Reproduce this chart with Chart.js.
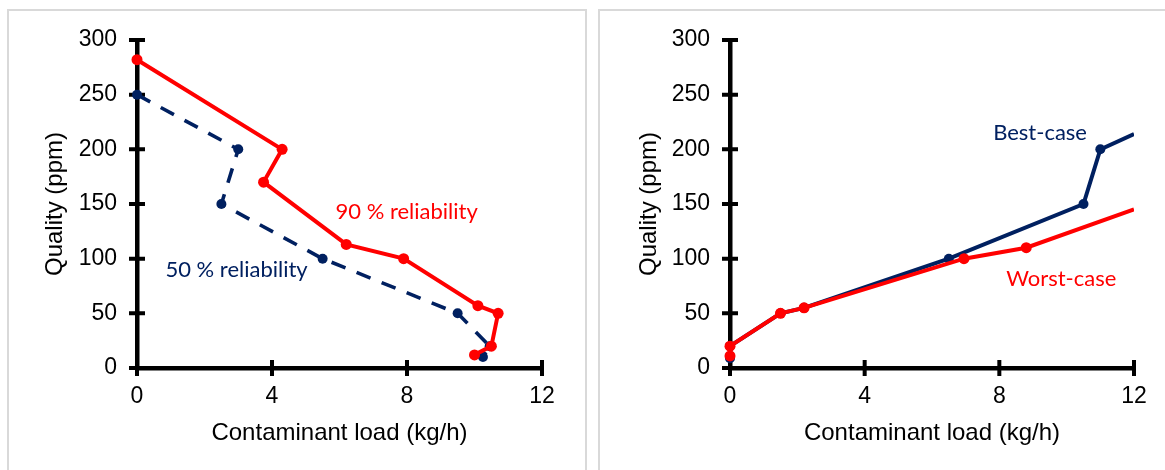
<!DOCTYPE html>
<html><head><meta charset="utf-8">
<script src="https://cdn.jsdelivr.net/npm/chart.js@4.4.1/dist/chart.umd.min.js"></script>
<style>
html,body{margin:0;padding:0;background:#fff;width:1165px;height:470px;overflow:hidden;position:relative}
.panel{position:absolute;border:2px solid #d9d9d9;box-sizing:border-box}
#p1{left:7px;top:9px;width:580px;height:480px}
#p2{left:598px;top:9px;width:600px;height:480px}
canvas{position:absolute;top:0}
#c1{left:0}
#c2{left:590px}
</style></head><body>
<div class="panel" id="p1"></div><div class="panel" id="p2"></div>
<canvas id="c1" width="590" height="470"></canvas>
<canvas id="c2" width="575" height="470"></canvas>
<script>
// ---- data ----
const loadTicks = [0, 4, 8, 12];
const qualityTicks = [0, 50, 100, 150, 200, 250, 300];

const rel50Load    = [0, 3.0, 2.5, 5.5, 9.5, 10.45, 10.25];
const rel50Quality = [250, 200, 150, 100, 50, 20, 10];
const rel90Load    = [0, 4.3, 3.75, 6.2, 7.9, 10.1, 10.7, 10.5, 10.0];
const rel90Quality = [282, 200, 170, 113, 100, 57, 50, 20, 12];

const bestLoad     = [0, 0, 1.5, 2.2, 6.5, 10.5, 11.0, 12];
const bestQuality  = [9, 20, 50, 55, 100, 150, 200, 214];
const worstLoad    = [0, 0, 1.5, 2.2, 6.95, 8.8, 12];
const worstQuality = [11, 20, 50, 55, 100, 110, 145];

const RED = '#ff0000', NAVY = '#002060';
const pts = (xs, ys) => xs.map((x, i) => ({x, y: ys[i]}));

const crossTicks = {
  id: 'crossTicks',
  beforeDatasetsDraw(chart) {
    const {ctx, chartArea: a, scales: {x, y}} = chart;
    ctx.save();
    ctx.strokeStyle = '#000';
    ctx.lineWidth = 4;
    ctx.beginPath();
    y.ticks.forEach(t => { const p = y.getPixelForValue(t.value); ctx.moveTo(a.left - 8, p); ctx.lineTo(a.left + 8, p); });
    x.ticks.forEach(t => { const p = x.getPixelForValue(t.value); ctx.moveTo(p, a.bottom - 8); ctx.lineTo(p, a.bottom + 8); });
    ctx.stroke();
    ctx.restore();
  }
};
const notes = {
  id: 'notes',
  afterDatasetsDraw(chart, args, opts) {
    const {ctx, scales: {x, y}} = chart;
    ctx.save();
    ctx.font = '22px Lato';
    ctx.textAlign = 'center';
    ctx.textBaseline = 'alphabetic';
    (opts.items || []).forEach(it => {
      ctx.fillStyle = it.color;
      ctx.fillText(it.text, x.getPixelForValue(it.x), y.getPixelForValue(it.y));
    });
    ctx.restore();
  }
};

function makeChart(id, datasets, yWidth, padRight, yTitlePad, items) {
  const tickFont = {family: 'Liberation Sans', size: 23};
  const titleFont = {family: 'Liberation Sans', size: 24};
  return new Chart(document.getElementById(id), {
    type: 'scatter',
    data: {datasets},
    plugins: [crossTicks, notes],
    options: {
      responsive: false,
      animation: false,
      layout: {padding: {left: 0, right: padRight, top: 40, bottom: 0}},
      plugins: {legend: {display: false}, tooltip: {enabled: false}, notes: {items}},
      scales: {
        x: {
          type: 'linear', min: 0, max: 12,
          afterBuildTicks: s => { s.ticks = loadTicks.map(v => ({value: v})); },
          afterFit: s => { s.height = 102; },
          grid: {display: false, drawTicks: false},
          border: {display: true, color: '#000', width: 4.5},
          ticks: {color: '#000', font: tickFont, padding: 15, maxRotation: 0},
          title: {display: true, text: 'Contaminant load (kg/h)', color: '#000', font: titleFont, padding: {top: 0, bottom: 22}}
        },
        y: {
          type: 'linear', min: 0, max: 300,
          afterBuildTicks: s => { s.ticks = qualityTicks.map(v => ({value: v})); },
          afterFit: s => { s.width = yWidth; },
          grid: {display: false, drawTicks: false},
          border: {display: true, color: '#000', width: 4.5},
          ticks: {color: '#000', font: tickFont, padding: 20},
          title: {display: true, text: 'Quality (ppm)', color: '#000', font: titleFont, padding: {top: yTitlePad, bottom: 0}}
        }
      }
    }
  });
}

const clip = {left: 12, top: 12, right: 0, bottom: 12};
const lastHidden = r => ctx => ctx.dataIndex === ctx.dataset.data.length - 1 ? 0 : r;

makeChart('c1', [
  {label: '50 % reliability', data: pts(rel50Load, rel50Quality), showLine: true, order: 2,
   borderColor: NAVY, backgroundColor: NAVY, borderWidth: 3.6, borderDash: [15, 12],
   pointRadius: 5, pointBorderWidth: 0, clip},
  {label: '90 % reliability', data: pts(rel90Load, rel90Quality), showLine: true, order: 1,
   borderColor: RED, backgroundColor: RED, borderWidth: 4,
   pointRadius: 5.5, pointBorderWidth: 0, clip}
], 137, 48, 41, [
  {text: '90 % reliability', x: 7.99, y: 136.5, color: RED},
  {text: '50 % reliability', x: 2.95, y: 83.5, color: NAVY}
]);

makeChart('c2', [
  {label: 'Best-case', data: pts(bestLoad, bestQuality), showLine: true, order: 2,
   borderColor: NAVY, backgroundColor: NAVY, borderWidth: 4,
   pointRadius: lastHidden(5), pointBorderWidth: 0, clip},
  {label: 'Worst-case', data: pts(worstLoad, worstQuality), showLine: true, order: 1,
   borderColor: RED, backgroundColor: RED, borderWidth: 4,
   pointRadius: lastHidden(5.5), pointBorderWidth: 0, clip}
], 140, 31, 45, [
  {text: 'Best-case', x: 9.21, y: 208.5, color: NAVY},
  {text: 'Worst-case', x: 9.84, y: 75, color: RED}
]);
</script>
</body></html>
